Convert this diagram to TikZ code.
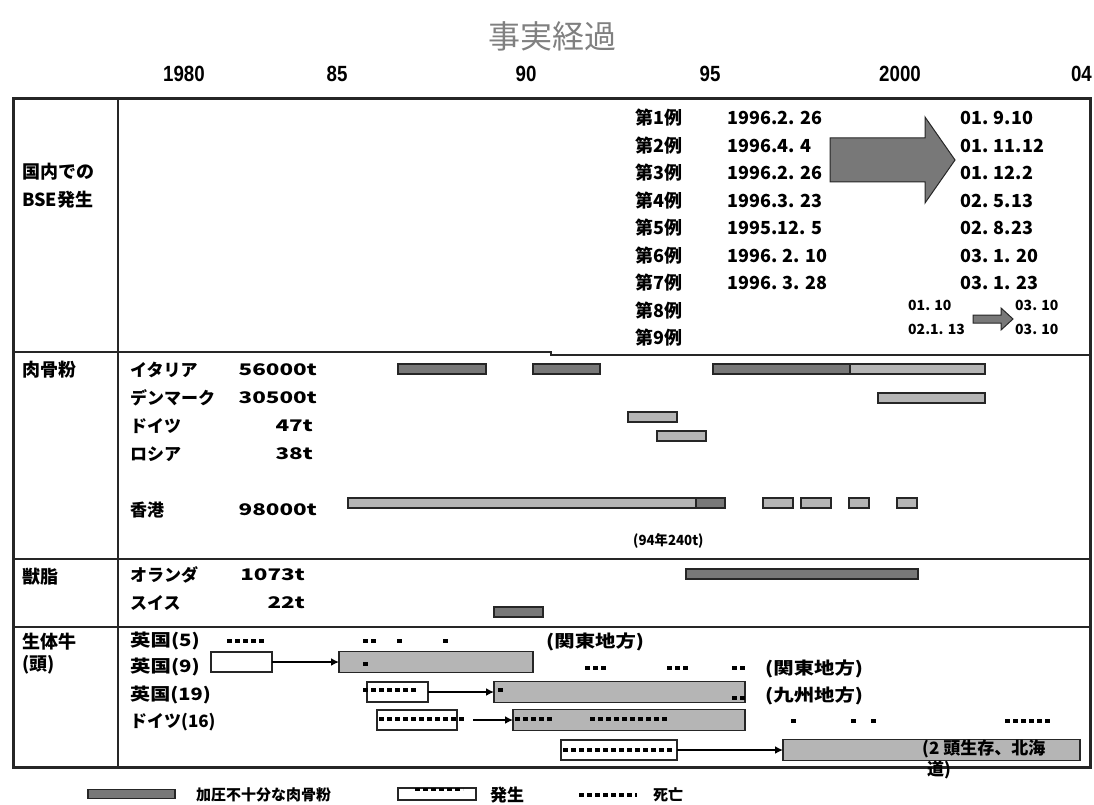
\documentclass[tikz,border=0pt]{standalone}
\usepackage{fontspec}
\setmainfont{Noto Sans CJK JP}
\newfontfamily\yrfont[FakeStretch=0.85]{Liberation Sans}
\usetikzlibrary{arrows.meta}
\definecolor{dk}{gray}{0.47}
\definecolor{lt}{gray}{0.71}
\definecolor{ttl}{gray}{0.5}
\definecolor{edge}{gray}{0.15}
\newcommand{\wx}[2]{\scalebox{#1}[1]{#2}}
\begin{document}
\begin{tikzpicture}[x=1pt,y=-1pt,
  hlab/.style={anchor=west,inner sep=0,font=\bfseries\fontsize{18}{18}\selectfont},
  clab/.style={anchor=west,inner sep=0,font=\bfseries\fontsize{18}{18}\selectfont},
  slab/.style={anchor=west,inner sep=0,font=\bfseries\fontsize{14}{14}\selectfont},
  lab/.style={anchor=west,inner sep=0,font=\bfseries\fontsize{17}{17}\selectfont},
  tlab/.style={anchor=east,inner sep=0,font=\bfseries\fontsize{16}{16}\selectfont},
  glab/.style={anchor=west,inner sep=0,font=\bfseries\fontsize{15}{15}\selectfont},
  yr/.style={inner sep=0,font=\yrfont\bfseries\fontsize{22}{22}\selectfont},
  bar/.style={draw=edge,line width=1.2pt,inner sep=0,outer sep=0,minimum height=10pt,anchor=west},
  dkbar/.style={bar,fill=dk},
  ltbar/.style={bar,fill=lt},
  wbox/.style={bar,fill=white,minimum height=20pt},
  gbox/.style={bar,fill=lt,minimum height=21pt},
  dots/.style={line width=3.5pt,dash pattern=on 5pt off 3pt},
  conn/.style={-{Latex[length=8pt,width=8pt]},line width=1.6pt},
  frame/.style={line width=1.3pt,draw=edge}]
\useasboundingbox (0,0) rectangle (1094,805);
% title and years
\node[inner sep=0,text=ttl,font=\fontsize{32}{32}\selectfont] (title) at (552,36) {事実経過};
\node[yr] (y80) at (184,74) {1980};
\node[yr] (y85) at (337,74) {85};
\node[yr] (y90) at (526,74) {90};
\node[yr] (y95) at (710,74) {95};
\node[yr] (y00) at (900,74) {2000};
\node[yr,anchor=east] (y04) at (1092,74) {04};
% frame
\draw[frame] (118,99) -- (118,767);
\draw[frame] (13,352) -- (551,352) -- (551,355) -- (1090,355);
\draw[frame] (13,559) -- (1090,559);
\draw[frame] (13,627) -- (1090,627);
\draw[line width=3pt,draw=edge] (13,99) rectangle (1090,767);
% section 1
\node[hlab] (s1a) at (22,172) {国内での};
\node[hlab] (s1b) at (22,200) {BSE発生};
\foreach \i/\y in {1/118,2/145.5,3/173,4/200.5,5/228,6/255.5,7/283,8/310.5,9/338}
  \node[clab] (c\i) at (635,\y) {第\i 例};
\node[clab] (d1) at (727,118) {1996.2. 26};
\node[clab] (d2) at (727,145.5) {1996.4. 4};
\node[clab] (d3) at (727,173) {1996.2. 26};
\node[clab] (d4) at (727,200.5) {1996.3. 23};
\node[clab] (d5) at (727,228) {1995.12. 5};
\node[clab] (d6) at (727,255.5) {1996. 2. 10};
\node[clab] (d7) at (727,283) {1996. 3. 28};
\node[clab] (e1) at (960,118) {01. 9.10};
\node[clab] (e2) at (960,145.5) {01. 11.12};
\node[clab] (e3) at (960,173) {01. 12.2};
\node[clab] (e4) at (960,200.5) {02. 5.13};
\node[clab] (e5) at (960,228) {02. 8.23};
\node[clab] (e6) at (960,255.5) {03. 1. 20};
\node[clab] (e7) at (960,283) {03. 1. 23};
\fill[dk,draw=edge,line width=1pt] (830,138) -- (925,138) -- (925,117) -- (955,160) -- (925,203) -- (925,182) -- (830,182) -- cycle;
\node[slab] (f1) at (908,305) {01. 10};
\node[slab] (f2) at (908,329) {02.1. 13};
\node[slab] (g1) at (1015,305) {03. 10};
\node[slab] (g2) at (1015,329) {03. 10};
\fill[dk,draw=edge,line width=1pt] (973,315) -- (1001,315) -- (1001,308) -- (1013,319) -- (1001,330) -- (1001,323) -- (973,323) -- cycle;
% section 2
\node[hlab] (s2) at (22,370) {肉骨粉};
\node[lab] (it) at (130,370) {イタリア};
\node[tlab] (itt) at (317,370) {\wx{1.4}{56000t}};
\node[lab] (dn) at (130,398) {デンマーク};
\node[tlab] (dnt) at (317,398) {\wx{1.4}{30500t}};
\node[lab] (de) at (130,426) {ドイツ};
\node[tlab] (det) at (313,426) {\wx{1.4}{47t}};
\node[lab] (ru) at (130,454) {ロシア};
\node[tlab] (rut) at (313,454) {\wx{1.4}{38t}};
\node[lab] (hk) at (130,510) {香港};
\node[tlab] (hkt) at (317,510) {\wx{1.4}{98000t}};
\node[dkbar,minimum width=88pt] (it1) at (398,369) {};
\node[dkbar,minimum width=67pt] (it2) at (533,369) {};
\node[dkbar,minimum width=137pt] (it3) at (713,369) {};
\node[ltbar,minimum width=135pt] (it4) at (850,369) {};
\node[ltbar,minimum width=107pt] (dn1) at (878,398) {};
\node[ltbar,minimum width=49pt] (de1) at (628,417) {};
\node[ltbar,minimum width=49pt] (ru1) at (657,436) {};
\node[ltbar,minimum width=348pt] (hk1) at (348,503) {};
\node[dkbar,minimum width=29pt] (hk2) at (696,503) {};
\node[ltbar,minimum width=30pt] (hk3) at (763,503) {};
\node[ltbar,minimum width=30pt] (hk4) at (801,503) {};
\node[ltbar,minimum width=20pt] (hk5) at (849,503) {};
\node[ltbar,minimum width=20pt] (hk6) at (897,503) {};
\node[slab] (hkn) at (633,541) {\wx{0.95}{(94年240t)}};
% section 3
\node[hlab] (s3) at (22,577) {獣脂};
\node[lab] (nl) at (130,575) {オランダ};
\node[tlab] (nlt) at (305,575) {\wx{1.4}{1073t}};
\node[lab] (ch) at (130,603) {スイス};
\node[tlab] (cht) at (305,603) {\wx{1.4}{22t}};
\node[dkbar,minimum width=232pt] (nl1) at (686,574) {};
\node[dkbar,minimum width=49pt] (ch1) at (494,612) {};
% section 4
\node[hlab] (s4a) at (22,642) {生体牛};
\node[hlab] (s4b) at (22,665) {(頭)};
\node[lab] (uk5) at (130,641) {\wx{1.2}{英国(5)}};
\node[lab] (uk9) at (130,667) {\wx{1.2}{英国(9)}};
\node[lab] (uk19) at (130,695) {\wx{1.18}{英国(19)}};
\node[lab] (de16) at (130,722) {ドイツ(16)};
% UK(5)
\draw[dots] (227,641) -- (264,641);
\draw[dots] (363,641) -- (376,641);
\draw[dots] (397,641) -- (402,641);
\draw[dots] (443,641) -- (448,641);
\node[lab] (kt1) at (546,642) {\wx{1.2}{(関東地方)}};
% UK(9)
\node[wbox,minimum width=61pt] (w9) at (211,662) {};
\node[gbox,minimum width=194pt] (g9) at (339,662) {};
\draw[conn] (w9.east) -- (g9.west);
\draw[dots] (363,664) -- (368,664);
\draw[dots] (585,668) -- (606,668);
\draw[dots] (667,668) -- (688,668);
\draw[dots] (732,668) -- (745,668);
\node[lab] (kt2) at (765,669) {\wx{1.2}{(関東地方)}};
% UK(19)
\node[wbox,minimum width=61pt] (w19) at (367,692) {};
\node[gbox,minimum width=251pt] (g19) at (494,692) {};
\draw[conn] (w19.east) -- (g19.west);
\draw[dots] (363,690) -- (416,690);
\draw[dots] (498,690) -- (503,690);
\draw[dots] (732,698) -- (745,698);
\node[lab] (ks) at (765,696) {\wx{1.2}{(九州地方)}};
% Germany(16)
\node[wbox,minimum width=80pt] (w16) at (377,720) {};
\node[gbox,minimum width=232pt] (g16) at (513,720) {};
\coordinate (a16) at (473,720);
\draw[conn] (a16) -- (g16.west);
\draw[dots] (379,719) -- (464,719);
\draw[dots] (515,719) -- (552,719);
\draw[dots] (590,719) -- (667,719);
\draw[dots] (791,721) -- (796,721);
\draw[dots] (851,721) -- (856,721);
\draw[dots] (871,721) -- (876,721);
\draw[dots] (1005,721) -- (1050,721);
% fifth row
\node[wbox,minimum width=116pt] (w5) at (561,750) {};
\node[gbox,minimum width=297pt] (g5) at (783,750) {};
\draw[conn] (w5.east) -- (g5.west);
\draw[dots] (563,750) -- (672,750);
\node[lab] (hd1) at (922,749) {(2 頭生存、北海};
\node[lab] (hd2) at (927,770) {道)};
% legend
\node[dkbar,minimum width=87pt,minimum height=9pt] (lg1) at (88,794) {};
\node[glab] (lt1) at (196,795) {加圧不十分な肉骨粉};
\node[bar,fill=white,minimum width=78pt,minimum height=12pt] (lg2) at (398,794) {};
\draw[dots,line width=3pt] (415,789.5) -- (463,789.5);
\node[lab] (lt2) at (490,795) {発生};
\coordinate (lg3a) at (579,795);
\coordinate (lg3b) at (637,795);
\draw[dots] (lg3a) -- (lg3b);
\node[glab] (lt3) at (653,795) {死亡};
\end{tikzpicture}
\end{document}
